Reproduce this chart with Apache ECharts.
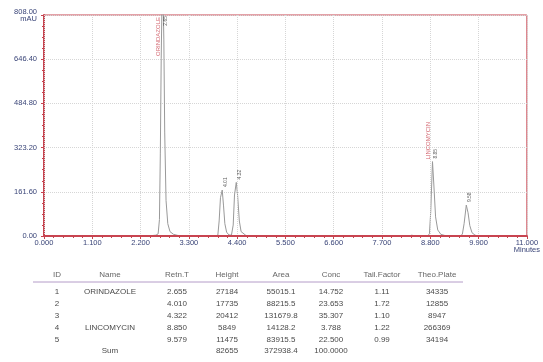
<!DOCTYPE html>
<html>
<head>
<meta charset="utf-8">
<script src="https://cdn.jsdelivr.net/npm/echarts@6/dist/echarts.min.js"></script>
<style>
  html, body { margin: 0; padding: 0; background: #fff; }
  #chart { width: 543px; height: 362px; }
</style>
</head>
<body>
<div id="chart"></div>
<script>
// chromatogram trace, minutes / mAU
const traceTimes = [0, 2.30, 2.45, 2.55, 2.60, 2.63, 2.65, 2.67, 2.69, 2.71, 2.73, 2.75, 2.78, 2.82, 2.87, 2.95, 3.05, 3.20,
  3.90, 3.96, 3.99, 4.02, 4.06, 4.09, 4.12, 4.16, 4.21, 4.27, 4.31, 4.34, 4.38, 4.41, 4.45, 4.49, 4.53, 4.60, 4.80,
  8.30, 8.38, 8.45, 8.74, 8.78, 8.81, 8.85, 8.88, 8.92, 8.97, 9.04, 9.15,
  9.48, 9.53, 9.57, 9.62, 9.66, 9.70, 9.75, 9.82, 9.90, 11.0];
const traceSignal = [0, 0, 1.5, 3, 8, 60, 300, 650, 880, 900, 720, 380, 130, 45, 16, 6, 2, 0.5,
  0, 3, 55, 140, 168, 110, 45, 14, 4, 3, 40, 150, 196, 150, 55, 16, 9, 2, 0,
  0, 3, 0, 0, 8, 90, 272, 190, 70, 22, 6, 1,
  0, 6, 45, 113, 85, 38, 12, 3, 0, 0];

// peak marks
const peakApex = [2.70, 4.06, 4.38, 8.85, 9.62];
const peakTop = [900, 168, 196, 272, 113];

// results table
const headers = ['ID', 'Name', 'Retn.T', 'Height', 'Area', 'Conc', 'Tail.Factor', 'Theo.Plate'];
const ids = ['1', '2', '3', '4', '5'];
const names = ['ORINDAZOLE', '', '', 'LINCOMYCIN', ''];
const retTimes = ['2.655', '4.010', '4.322', '8.850', '9.579'];
const heights = ['27184', '17735', '20412', '5849', '11475'];
const areas = ['55015.1', '88215.5', '131679.8', '14128.2', '83915.5'];
const concs = ['14.752', '23.653', '35.307', '3.788', '22.500'];
const tailFactors = ['1.11', '1.72', '1.10', '1.22', '0.99'];
const theoPlates = ['34335', '12855', '8947', '266369', '34194'];
const sumRow = ['', 'Sum', '', '82655', '372938.4', '100.0000', '', ''];

const Y_MAX = 808;
const axisRed = '#c84450';
const labelBlue = '#3a4578';
const sans = '"Liberation Sans", Arial, sans-serif';

const chart = echarts.init(document.getElementById('chart'));

const nameMarks = [];
const rtMarks = [];
peakApex.forEach((t, i) => {
  const clipped = peakTop[i] >= Y_MAX;
  const y = Math.min(peakTop[i], Y_MAX);
  if (names[i]) {
    nameMarks.push({
      value: [t, y], text: names[i],
      label: clipped ? { align: 'right', offset: [-2, -4] } : { align: 'left', offset: [2, -4] }
    });
  }
  rtMarks.push({
    value: [t, y], text: Number(retTimes[i]).toFixed(2),
    label: clipped ? { align: 'right', offset: [-1, 3] } : { align: 'left', offset: [3, 3] }
  });
});

// table as graphic text
const colX = [57, 110, 177, 227, 281, 331, 382, 437];
const headY = 275;
const rowY = [292, 304, 316, 328, 340, 351];
const tableFont = '8px ' + sans;
const graphics = [];
headers.forEach((h, c) => {
  graphics.push({ type: 'text', x: colX[c], y: headY,
    style: { text: h, font: tableFont, fill: '#666', align: 'center', verticalAlign: 'middle' } });
});
graphics.push({ type: 'line', shape: { x1: 33, y1: 282, x2: 463, y2: 282 },
  style: { stroke: '#b49cc8', lineWidth: 1 } });
const rows = ids.map((id, r) => [id, names[r], retTimes[r], heights[r], areas[r], concs[r], tailFactors[r], theoPlates[r]]);
rows.push(sumRow);
rows.forEach((row, r) => {
  row.forEach((cell, c) => {
    if (!cell) return;
    graphics.push({ type: 'text', x: colX[c], y: rowY[r],
      style: { text: cell, font: tableFont, fill: '#4a4a4a', align: 'center', verticalAlign: 'middle' } });
  });
});

const option = {
  animation: false,
  backgroundColor: '#fff',
  grid: { left: 44, right: 14, top: 15, bottom: 126, show: true, borderColor: axisRed, borderWidth: 1 },
  xAxis: {
    type: 'value', min: 0, max: 11, interval: 1.1, z: 3,
    axisLine: { onZero: false, lineStyle: { color: axisRed, width: 2 } },
    axisTick: { length: 3, lineStyle: { color: axisRed } },
    minorTick: { show: true, splitNumber: 5, length: 2, lineStyle: { color: axisRed } },
    splitLine: { show: true, lineStyle: { color: '#d6d6d6', type: 'dotted' } },
    axisLabel: {
      fontSize: 7.5, color: labelBlue, margin: 3, lineHeight: 7, showMaxLabel: true,
      fontFamily: sans,
      formatter: v => v >= 11 ? v.toFixed(3) + '\nMinutes' : v.toFixed(3)
    }
  },
  yAxis: {
    type: 'value', min: 0, max: Y_MAX, interval: 161.6,
    axisLine: { show: true, lineStyle: { color: axisRed, width: 2 } },
    axisTick: { show: true, length: 3, lineStyle: { color: axisRed } },
    minorTick: { show: true, splitNumber: 4, length: 2, lineStyle: { color: axisRed } },
    splitLine: { show: true, lineStyle: { color: '#d6d6d6', type: 'dotted' } },
    axisLabel: {
      fontSize: 7.5, color: labelBlue, margin: 7, lineHeight: 7, showMaxLabel: true,
      fontFamily: sans,
      formatter: v => v >= Y_MAX ? v.toFixed(2) + '\nmAU' : v.toFixed(2)
    }
  },
  series: [
    {
      type: 'line',
      data: traceTimes.map((t, i) => [t, traceSignal[i]]),
      showSymbol: false,
      clip: true,
      lineStyle: { color: '#999', width: 1 },
      z: 2
    },
    {
      type: 'scatter', symbolSize: 1, itemStyle: { color: 'rgba(0,0,0,0)' }, z: 4,
      data: nameMarks,
      label: {
        show: true, position: 'inside', rotate: 90, verticalAlign: 'middle',
        fontSize: 6, color: '#c8404c', fontFamily: sans,
        formatter: p => p.data.text
      }
    },
    {
      type: 'scatter', symbolSize: 1, itemStyle: { color: 'rgba(0,0,0,0)' }, z: 4,
      data: rtMarks,
      label: {
        show: true, position: 'inside', rotate: 90, verticalAlign: 'middle',
        fontSize: 5, color: '#333', fontFamily: sans,
        formatter: p => p.data.text
      }
    }
  ],
  graphic: graphics
};

chart.setOption(option);
</script>
</body>
</html>
